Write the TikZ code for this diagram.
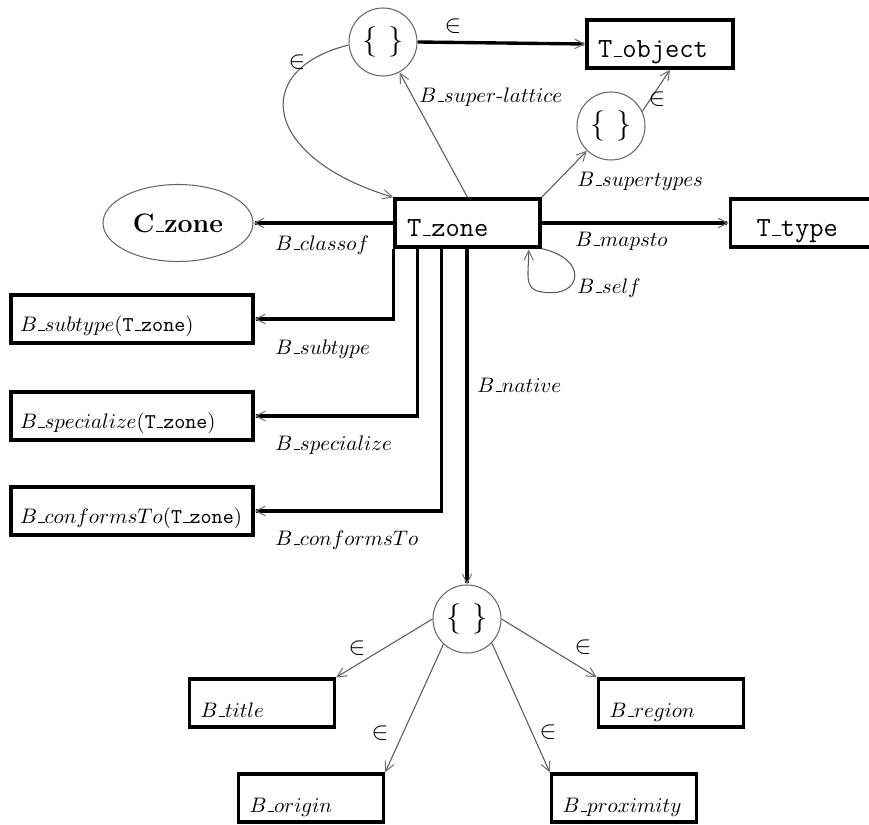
\documentclass[tikz,border=0pt]{standalone}
\usetikzlibrary{arrows.meta,calc,shapes.geometric}
\newdimen\pxu \pxu=0.476pt
% short, low underscore as in classic LaTeX
\newcommand{\usc}{\ifmmode\mbox{\kern.06em\vbox{\hrule width.3em height.5pt}}%
  \else\leavevmode\kern.06em\vbox{\hrule width.3em height.5pt}\fi}
\begin{document}
\begin{tikzpicture}[x=\pxu,y=-\pxu,
  thickline/.style={line width=1.6pt},
  thinline/.style={line width=0.5pt,draw=black!65},
  tip/.style={-{Straight Barb[length=4.5pt,width=4.5pt,line width=0.5pt,color=black!55]}},
  tbox/.style={draw,line width=1.6pt,rectangle,minimum height=48\pxu,inner ysep=0pt,align=left},
  mono/.style={font=\fontsize{13.2}{16}\selectfont\ttfamily,text height=27\pxu,text depth=0pt},
  setc/.style={circle,draw=black!60,line width=0.5pt,minimum size=68\pxu,inner sep=0pt,
    font=\fontsize{14.5}{17}\selectfont},
  lbl/.style={inner sep=0pt,anchor=west,font=\fontsize{10}{12}\selectfont},
  elt/.style={inner sep=0pt,font=\fontsize{12}{14}\selectfont}
]
\useasboundingbox (0,0) rectangle (869,825);
\begin{scope}
\clip (0,0) rectangle (869,825);

% type nodes
\node[tbox,mono,inner xsep=11\pxu,text width=124\pxu] (Tobject) at (660,44) {T\usc object};
\node[tbox,mono,inner xsep=12\pxu,text width=121\pxu] (Tzone) at (467.5,223) {T\usc zone};
\node[tbox,mono,inner xsep=26\pxu,text width=123\pxu] (Ttype) at (818,223) {T\usc type};
\node[ellipse,draw=black!60,line width=0.5pt,minimum width=150\pxu,minimum height=77\pxu,
  inner sep=0pt,font=\fontsize{12.7}{15}\selectfont\bfseries] (Czone) at (178,223) {C\usc zone};

% set nodes
\node[setc] (c1) at (383,42) {$\{\,\,\}$};
\node[setc] (c2) at (611,126) {$\{\,\,\}$};
\node[setc] (c3) at (467,619) {$\{\,\,\}$};

% derived behaviour boxes
\begin{scope}[every node/.style={tbox,inner xsep=9\pxu,text width=224\pxu,
    font=\fontsize{10}{12}\selectfont,text height=24\pxu,text depth=0pt}]
\node (subtype) at (132,319) {$B\usc subtype$(\texttt{T\usc zone})};
\node (special) at (132,416) {$B\usc specialize$(\texttt{T\usc zone})};
\node (conforms) at (132,511) {$B\usc conformsTo$(\texttt{T\usc zone})};
\end{scope}

% native behaviours
\begin{scope}[every node/.style={tbox,inner xsep=11\pxu,text width=123\pxu,
    font=\fontsize{10}{12}\selectfont,text height=28\pxu,text depth=0pt}]
\node (Btitle) at (262,703) {$B\usc title$};
\node (Bregion) at (671,703) {$B\usc region$};
\node (Borigin) at (311,798) {$B\usc origin$};
\node (Bprox) at (624,798) {$B\usc proximity$};
\end{scope}

% thick connectors
\draw[thickline,tip] (c1.east) -- (Tobject.west);
\draw[thickline,tip] (Tzone.west) -- (Czone.east);
\draw[thickline,tip] (Tzone.east) -- (Ttype.west);
\draw[thickline,tip] (Tzone.south west) |- (subtype.east);
\draw[thickline,tip] ($(Tzone.south west)+(24,0)$) |- (special.east);
\draw[thickline,tip] ($(Tzone.south west)+(48,0)$) |- (conforms.east);
\draw[thickline,tip] (c3.north |- Tzone.south) -- (c3.north);

% thin connectors
\draw[thinline,tip] (c1.185) .. controls +(-100,25) and +(-130,-39) .. (Tzone.north west);
\draw[thinline,tip] (Tzone.north) -- (c1);
\draw[thinline,tip] (Tzone.north east) -- (c2);
\draw[thinline,tip] (c2.25) -- ($(Tobject.south)+(10,0)$);
\draw[thinline,tip] (Tzone.south east) .. controls +(45,10) and +(30,0) .. ++(10,44)
  .. controls +(-30,0) and +(0,30) .. ($(Tzone.south east)+(-13,1)$);
\draw[thinline,tip] (c3.west) -- (Btitle.north east);
\draw[thinline,tip] (c3.-133) -- (Borigin.north east);
\draw[thinline,tip] (c3.east) -- (Bregion.north west);
\draw[thinline,tip] (c3.-44) -- (Bprox.north west);

% labels
\node[elt] (e1) at (453,26) {$\in$};
\node[elt] (e2) at (297,62) {$\in$};
\node[elt] (e3) at (657,99) {$\in$};
\node[elt] (e4) at (357,648) {$\in$};
\node[elt] (e5) at (380,733) {$\in$};
\node[elt] (e6) at (583,647) {$\in$};
\node[elt] (e7) at (548,732) {$\in$};
\node[lbl] (lsuper) at (419,97) {$B\usc super\mbox{-}lattice$};
\node[lbl] (lsupt) at (577,181) {$B\usc supertypes$};
\node[lbl] (lclass) at (275,245) {$B\usc classof$};
\node[lbl] (lmaps) at (575,241) {$B\usc mapsto$};
\node[lbl] (lself) at (577,288) {$B\usc self$};
\node[lbl] (lsubt) at (275,349) {$B\usc subtype$};
\node[lbl] (lspec) at (275,445) {$B\usc specialize$};
\node[lbl] (lconf) at (275,540) {$B\usc conformsTo$};
\node[lbl] (lnat) at (477,385) {$B\usc native$};
\end{scope}
\end{tikzpicture}
\end{document}
